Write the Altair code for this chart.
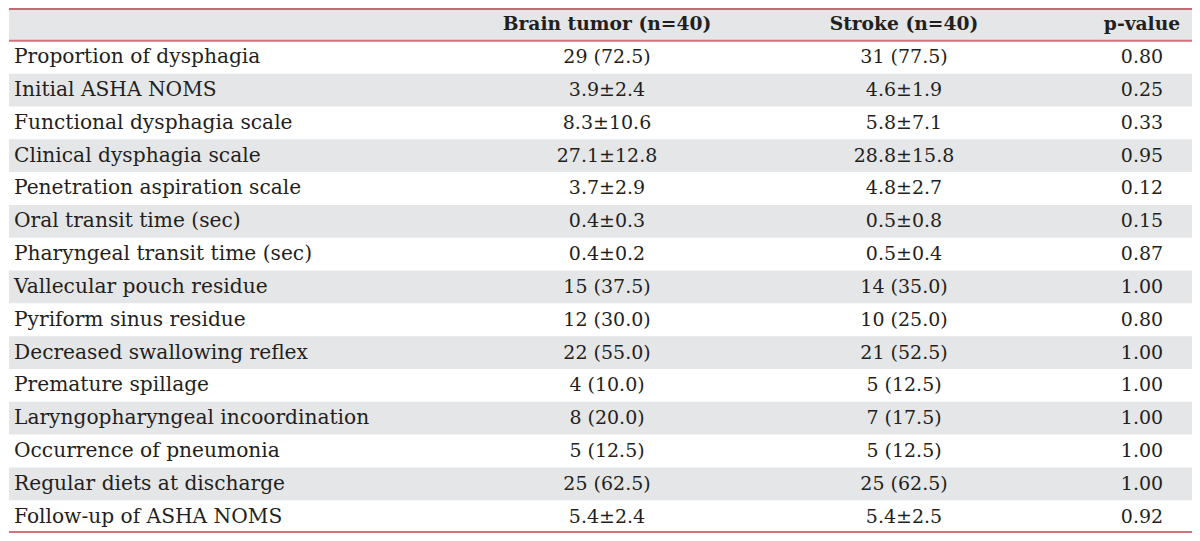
import altair as alt
import pandas as pd

headers = ["", "Brain tumor (n=40)", "Stroke (n=40)", "p-value"]
labels = [
    "Proportion of dysphagia", "Initial ASHA NOMS", "Functional dysphagia scale",
    "Clinical dysphagia scale", "Penetration aspiration scale", "Oral transit time (sec)",
    "Pharyngeal transit time (sec)", "Vallecular pouch residue", "Pyriform sinus residue",
    "Decreased swallowing reflex", "Premature spillage", "Laryngopharyngeal incoordination",
    "Occurrence of pneumonia", "Regular diets at discharge", "Follow-up of ASHA NOMS",
]
brain = ["29 (72.5)", "3.9±2.4", "8.3±10.6", "27.1±12.8", "3.7±2.9", "0.4±0.3", "0.4±0.2",
         "15 (37.5)", "12 (30.0)", "22 (55.0)", "4 (10.0)", "8 (20.0)", "5 (12.5)",
         "25 (62.5)", "5.4±2.4"]
stroke = ["31 (77.5)", "4.6±1.9", "5.8±7.1", "28.8±15.8", "4.8±2.7", "0.5±0.8", "0.5±0.4",
          "14 (35.0)", "10 (25.0)", "21 (52.5)", "5 (12.5)", "7 (17.5)", "5 (12.5)",
          "25 (62.5)", "5.4±2.5"]
pvals = ["0.80", "0.25", "0.33", "0.95", "0.12", "0.15", "0.87", "1.00", "0.80", "1.00",
         "1.00", "1.00", "1.00", "1.00", "0.92"]

W, H = 1184, 525
FONT = "DejaVu Serif"
TXT = "#231f20"
GRAY = "#e5e6e8"
RED = "#d0737a"
HEAD_SIZE = 18.7

row_ids = ["h"] + [f"r{i:02d}" for i in range(len(labels))]
yscale = alt.Scale(domain=row_ids, paddingInner=0, paddingOuter=0)

columns = [
    ("label", [""] + labels, "left", 5, 20.2),
    ("brain", [headers[1]] + brain, "center", 598, 19),
    ("stroke", [headers[2]] + stroke, "center", 895, 19),
    ("p", [headers[3]] + pvals, "center", 1133, 19),
]

bg = pd.DataFrame({"row": [r for k, r in enumerate(row_ids) if k % 2 == 0]})
layers = [alt.Chart(bg).mark_rect(color=GRAY).encode(
    y=alt.Y("row:N", scale=yscale, axis=None),
    x=alt.value(0), x2=alt.value(W),
)]

for name, texts, align, xpos, size in columns:
    d = pd.DataFrame({"row": row_ids, "text": texts,
                      "kind": ["header"] + ["body"] * len(labels)})
    body = alt.Chart(d).transform_filter("datum.kind == 'body'").mark_text(
        align=align, baseline="middle", font=FONT, fontSize=size, color=TXT
    ).encode(
        y=alt.Y("row:N", scale=yscale, axis=None, bandPosition=0.5),
        x=alt.value(xpos),
        text="text:N",
    )
    head = alt.Chart(d).transform_filter("datum.kind == 'header'").mark_text(
        align=align, baseline="middle", font=FONT, fontSize=HEAD_SIZE,
        fontWeight="bold", color=TXT
    ).encode(
        y=alt.Y("row:N", scale=yscale, axis=None, bandPosition=0.5),
        x=alt.value(xpos),
        text="text:N",
    )
    layers += [body, head]

band = H / len(row_ids)
one = pd.DataFrame({"a": [0]})
layers += [
    alt.Chart(one).mark_rule(color="#b5424e", strokeWidth=1.5).encode(
        x=alt.value(0), x2=alt.value(W), y=alt.value(1)),
    alt.Chart(one).mark_rule(color=RED, strokeWidth=2).encode(
        x=alt.value(0), x2=alt.value(W), y=alt.value(band)),
    alt.Chart(one).mark_rule(color=RED, strokeWidth=2).encode(
        x=alt.value(0), x2=alt.value(W), y=alt.value(H - 1)),
]

chart = alt.layer(*layers).properties(
    width=W, height=H, padding=0,
    autosize=alt.AutoSizeParams(type="fit", contains="padding"),
).configure_view(stroke=None)

chart.save("out.html", embed_options={"renderer": "svg", "actions": False})
